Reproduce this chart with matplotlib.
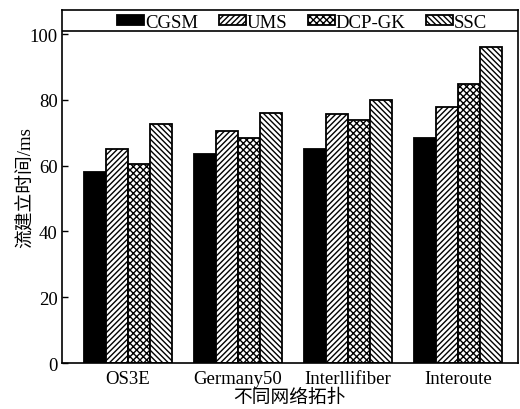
import numpy as np
import matplotlib
matplotlib.use('Agg')
import matplotlib.pyplot as plt

plt.rcParams['font.family'] = ['Liberation Serif', 'Noto Sans CJK SC']
plt.rcParams['hatch.linewidth'] = 1.0

# 拓扑与各方案的流建立时间
topologies = ['OS3E', 'Germany50', 'Interllifiber', 'Interoute']
methods = ['CGSM', 'UMS', 'DCP-GK', 'SSC']
cgsm = [58.0, 63.5, 65.0, 68.4]
ums = [65.0, 70.6, 75.7, 77.7]
dcp_gk = [60.5, 68.3, 74.0, 84.8]
ssc = [72.6, 75.9, 79.9, 96.1]

series = [cgsm, ums, dcp_gk, ssc]
hatches = ['', '//////', 'xxxxx', '\\\\\\\\\\\\']
faces = ['black', 'white', 'white', 'white']

fig = plt.figure(figsize=(5.2, 4.1), dpi=100)
ax = fig.add_axes([0.119, 0.112, 0.877, 0.861])

x = np.arange(len(topologies))
w = 0.2
for i, vals in enumerate(series):
    ax.bar(x + (i - 1.5) * w, vals, w, color=faces[i], edgecolor='black',
           hatch=hatches[i], linewidth=1.3, label=methods[i])

ax.set_xlim(-0.6, 3.545)
ax.set_ylim(0, 107.3)
ax.set_yticks([0, 20, 40, 60, 80, 100])
ax.set_xticks(x)
ax.set_xticklabels(topologies, fontsize=13.5)
ax.tick_params(axis='y', direction='in', length=4, width=1, labelsize=13.5, pad=3)
ax.tick_params(axis='x', length=0, pad=5)
for s in ax.spines.values():
    s.set_linewidth(1.2)

ax.set_ylabel('流建立时间/ms', fontsize=13.5, labelpad=-4)
ax.set_xlabel('不同网络拓扑', fontsize=13.5, labelpad=1)

# 图例框下边线
ax.plot([0, 1], [0.9405, 0.9405], transform=ax.transAxes, color='black', lw=1.2)
ax.legend(ncol=4, loc='center', bbox_to_anchor=(0.527, 0.966), frameon=False,
          fontsize=13.5, handlelength=1.44, handleheight=0.4, handletextpad=0.05,
          columnspacing=1.1, borderpad=0, borderaxespad=0)

fig.savefig('out.png', dpi=100)
